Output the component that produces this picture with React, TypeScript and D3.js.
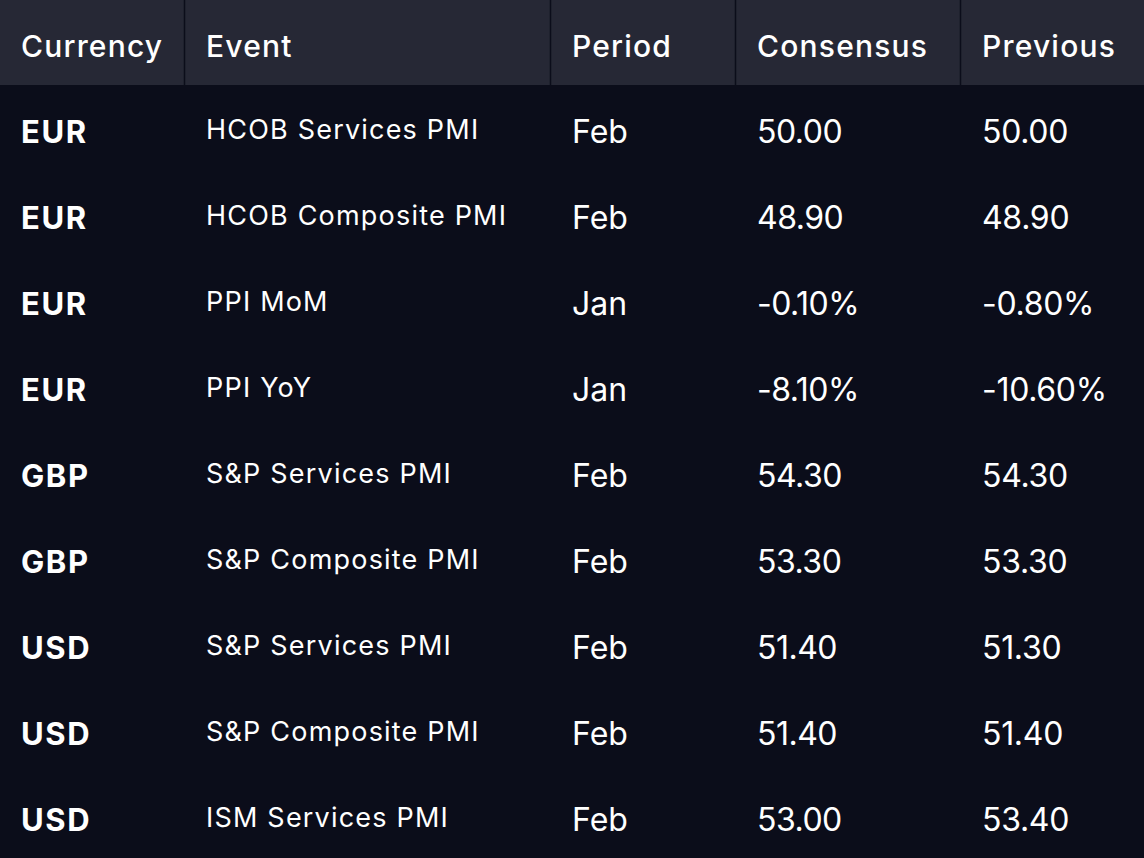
import React, { useEffect } from "react";
import * as d3 from "d3";

const columns = ["Currency", "Event", "Period", "Consensus", "Previous"];
const currencies = ["EUR", "EUR", "EUR", "EUR", "GBP", "GBP", "USD", "USD", "USD"];
const events = [
  "HCOB Services PMI",
  "HCOB Composite PMI",
  "PPI MoM",
  "PPI YoY",
  "S&P Services PMI",
  "S&P Composite PMI",
  "S&P Services PMI",
  "S&P Composite PMI",
  "ISM Services PMI",
];
const periods = ["Feb", "Feb", "Jan", "Jan", "Feb", "Feb", "Feb", "Feb", "Feb"];
const consensus = ["50.00", "48.90", "-0.10%", "-8.10%", "54.30", "53.30", "51.40", "51.40", "53.00"];
const previous = ["50.00", "48.90", "-0.80%", "-10.60%", "54.30", "53.30", "51.30", "51.40", "53.40"];

const W = 1144;
const H = 858;
const HEADER_H = 85;
const colEdges = [0, 184, 550, 735, 960, W];
const textPad = [21, 22, 22, 22, 22];
const FONT = "Inter, 'Open Sans', sans-serif";

export default function App() {
  useEffect(() => {
    document.body.style.margin = "0";
    document.body.style.background = "#0b0d1a";
  }, []);

  const rows = d3.range(currencies.length);
  const y = d3.scaleBand<number>().domain(rows).range([HEADER_H, HEADER_H + 86 * rows.length]).padding(0);

  return (
    <svg width={W} height={H} style={{ display: "block", position: "absolute", left: 0, top: 0 }}>
      <rect x={0} y={0} width={W} height={H} fill="#0b0d1a" />
      <rect x={0} y={0} width={W} height={HEADER_H} fill="#262835" />
      {colEdges.slice(1, -1).map((x, i) => (
        <line key={i} x1={x + 0.5} x2={x + 0.5} y1={0} y2={HEADER_H} stroke="#0b0d1a" strokeWidth={1.5} />
      ))}
      {columns.map((c, i) => (
        <text
          key={c}
          x={colEdges[i] + textPad[i]}
          y={57}
          fill="#ffffff"
          fontFamily={FONT}
          fontSize={30}
          fontWeight={500}
          letterSpacing={1.2}
        >
          {c}
        </text>
      ))}
      {rows.map((r) => {
        const cy = (y(r) as number) + y.bandwidth() / 2;
        return (
          <g key={r}>
            <text x={colEdges[0] + textPad[0]} y={cy + 14.5} fill="#fff" fontFamily={FONT} fontSize={31} fontWeight={700} letterSpacing={1.6}>
              {currencies[r]}
            </text>
            <text x={colEdges[1] + textPad[1]} y={cy + 11} fill="#fff" fontFamily={FONT} fontSize={27} fontWeight={400} letterSpacing={1.2}>
              {events[r]}
            </text>
            <text x={colEdges[2] + textPad[2]} y={cy + 15} fill="#fff" fontFamily={FONT} fontSize={32} fontWeight={400}>
              {periods[r]}
            </text>
            <text x={colEdges[3] + textPad[3]} y={cy + 15} fill="#fff" fontFamily={FONT} fontSize={32} fontWeight={400} letterSpacing={-0.5}>
              {consensus[r]}
            </text>
            <text x={colEdges[4] + textPad[4]} y={cy + 15} fill="#fff" fontFamily={FONT} fontSize={32} fontWeight={400} letterSpacing={-0.3}>
              {previous[r]}
            </text>
          </g>
        );
      })}
    </svg>
  );
}
